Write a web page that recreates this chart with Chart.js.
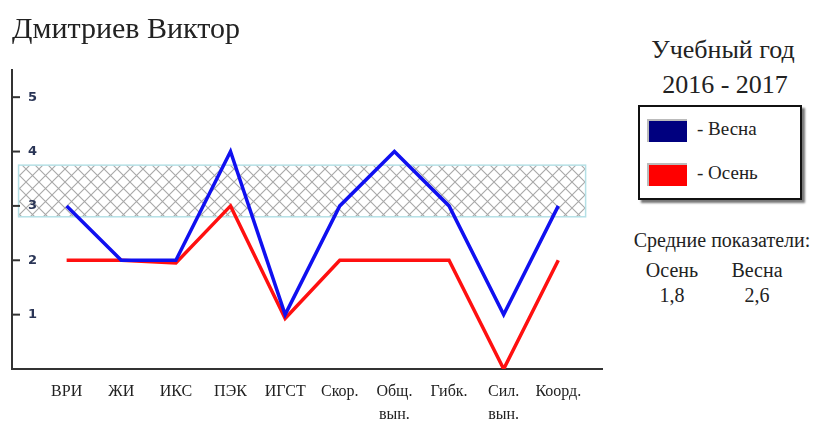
<!DOCTYPE html>
<html lang="ru">
<head>
<meta charset="utf-8">
<script src="https://cdn.jsdelivr.net/npm/chart.js@4.4.1/dist/chart.umd.min.js"></script>
<style>
  body { margin: 0; background: #fff; font-family: "Liberation Serif", "DejaVu Serif", serif; color: #222; }
  #wrap { position: absolute; left: 0; top: 0; width: 610px; height: 421px; }
  .side { position: absolute; text-align: center; }
  #legendBox {
    position: absolute; left: 638px; top: 105px; width: 160px; height: 91px;
    border: 2px solid #111; box-shadow: 3px 3px 2px #777; background: #fff;
  }
  .row { position: absolute; left: 7px; font-size: 19px; }
  .sw { display: inline-block; width: 38px; height: 21px; vertical-align: middle;
        border-top: 2px solid #bbb; border-left: 2px solid #bbb; margin-right: 10px; }
</style>
</head>
<body>
<div id="wrap"><canvas id="progressChart"></canvas></div>

<div class="side" style="left:628px; top:35px; width:190px; font-size:26px;">Учебный год</div>
<div class="side" style="left:630px; top:70px; width:190px; font-size:26px;">2016 - 2017</div>

<div id="legendBox">
  <div class="row" style="top:11px;"><span class="sw" id="swSpring"></span>- Весна</div>
  <div class="row" style="top:55px;"><span class="sw" id="swAutumn"></span>- Осень</div>
</div>

<div class="side" style="left:622px; top:229px; width:200px; font-size:20px;">Средние показатели:</div>
<div class="side" style="left:642px; top:259px; width:60px; font-size:20px;">Осень</div>
<div class="side" style="left:727px; top:259px; width:60px; font-size:20px;">Весна</div>
<div class="side" style="left:642px; top:284px; width:60px; font-size:20px;" id="avgAutumn"></div>
<div class="side" style="left:727px; top:284px; width:60px; font-size:20px;" id="avgSpring"></div>

<script>
// categories (tests)
const categories = [
    'ВРИ', 'ЖИ', 'ИКС', 'ПЭК', 'ИГСТ', 'Скор.',
    ['Общ.', 'вын.'], 'Гибк.', ['Сил.', 'вын.'], 'Коорд.'
];

// scores
const springScores = [3, 2, 2, 4, 1, 3, 4, 3, 1, 3];
const autumnScores = [2, 2, 1.95, 3, 0.93, 2, 2, 2, 0, 2];

// y tick labels
const yTicks = [1, 2, 3, 4, 5];

// norm band (hatched)
const normLow = 2.8;
const normHigh = 3.75;

const springColor = '#1010f0';
const autumnColor = '#ff1010';

document.getElementById('swSpring').style.background = '#00007f';
document.getElementById('swAutumn').style.background = '#ff0000';

function avg(arr) {
    let s = 0;
    arr.forEach(v => s += v);
    return (s / arr.length).toFixed(1).replace('.', ',');
}
document.getElementById('avgAutumn').textContent = avg(autumnScores);
document.getElementById('avgSpring').textContent = avg(springScores);

// crosshatch pattern
function makeHatch() {
    const c = document.createElement('canvas');
    c.width = 13;
    c.height = 13;
    const g = c.getContext('2d');
    g.fillStyle = '#fff';
    g.fillRect(0, 0, 13, 13);
    g.strokeStyle = '#a8a8a8';
    g.lineWidth = 1.1;
    g.beginPath();
    g.moveTo(0, 0); g.lineTo(13, 13);
    g.moveTo(13, 0); g.lineTo(0, 13);
    g.stroke();
    return g.createPattern(c, 'repeat');
}

// drawn before the axes so the "3" label stays on top
const bandPlugin = {
    id: 'normBand',
    beforeDraw(chart) {
        const ctx = chart.ctx;
        const x = chart.scales.x;
        const y = chart.scales.y;
        const left = x.getPixelForValue(-0.88);
        const right = x.getPixelForValue(9.5);
        const top = y.getPixelForValue(normHigh);
        const bottom = y.getPixelForValue(normLow);
        ctx.save();
        ctx.fillStyle = makeHatch();
        ctx.fillRect(left, top, right - left, bottom - top);
        ctx.strokeStyle = '#b5e0e6';
        ctx.lineWidth = 1.5;
        ctx.strokeRect(left, top, right - left, bottom - top);
        ctx.restore();
    }
};

// small tick marks on the inner side of the y axis
const yMarksPlugin = {
    id: 'yMarks',
    afterDraw(chart) {
        const ctx = chart.ctx;
        const y = chart.scales.y;
        const x0 = chart.chartArea.left;
        ctx.save();
        ctx.strokeStyle = '#333';
        ctx.lineWidth = 2;
        yTicks.forEach(v => {
            const py = y.getPixelForValue(v);
            ctx.beginPath();
            ctx.moveTo(x0, py);
            ctx.lineTo(x0 + 8, py);
            ctx.stroke();
        });
        ctx.restore();
    }
};

const ctx = document.getElementById('progressChart').getContext('2d');

const progressChart = new Chart(ctx, {
    type: 'line',
    data: {
        datasets: [{
            label: 'Весна',
            data: springScores.map((v, i) => ({ x: i, y: v })),
            borderColor: springColor,
            borderWidth: 3.5,
            pointRadius: 0,
            tension: 0
        }, {
            label: 'Осень',
            data: autumnScores.map((v, i) => ({ x: i, y: v })),
            borderColor: autumnColor,
            borderWidth: 3.5,
            pointRadius: 0,
            tension: 0
        }]
    },
    plugins: [bandPlugin, yMarksPlugin],
    options: {
        responsive: true,
        maintainAspectRatio: false,
        animation: false,
        layout: { padding: { left: 12, right: 8, top: 0, bottom: 0 } },
        plugins: {
            legend: { display: false },
            tooltip: { enabled: false },
            title: {
                display: true,
                text: 'Дмитриев Виктор',
                align: 'start',
                color: '#222',
                font: { family: 'Liberation Serif', size: 30, weight: 'normal' },
                padding: { top: 12, bottom: 22 }
            }
        },
        scales: {
            x: {
                type: 'linear',
                min: -1,
                max: 9.8,
                grid: { display: false, drawTicks: false },
                border: { display: true, color: '#333', width: 2 },
                afterBuildTicks(scale) {
                    scale.ticks = categories.map((c, i) => ({ value: i }));
                },
                afterFit(scale) {
                    scale.height = 52;
                },
                ticks: {
                    autoSkip: false,
                    maxRotation: 0,
                    padding: 11,
                    color: '#222',
                    font: { family: 'Liberation Serif', size: 16, lineHeight: 1.45 },
                    callback: v => categories[v]
                }
            },
            y: {
                min: 0,
                max: 5.5,
                grid: { display: false, drawTicks: false },
                border: { display: true, color: '#333', width: 2 },
                afterBuildTicks(scale) {
                    scale.ticks = yTicks.map(v => ({ value: v }));
                },
                afterFit(scale) {
                    scale.width = 0;
                },
                ticks: {
                    mirror: true,
                    padding: 16,
                    color: '#2a3556',
                    font: { family: 'DejaVu Sans', size: 13, weight: 'bold' }
                }
            }
        }
    }
});
</script>
</body>
</html>
